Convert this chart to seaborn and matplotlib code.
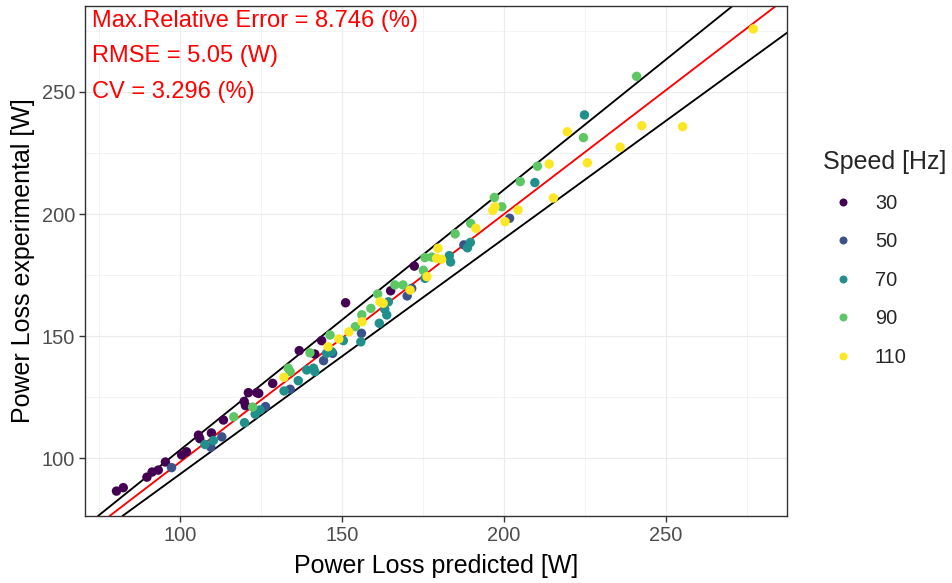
import matplotlib
matplotlib.use("Agg")
import matplotlib.pyplot as plt
import seaborn as sns
import pandas as pd

# ---- data ----
speeds = ["30", "50", "70", "90", "110"]
colors = ["#440154", "#3B528B", "#21908C", "#5DC863", "#FDE725"]

pred_30 = [80.4, 82.5, 89.8, 91.4, 93.3, 95.5, 100.5, 102.0, 105.7, 106.1, 109.7, 113.4,
           119.8, 120.2, 121.1, 123.7, 124.3, 128.6, 136.8, 141.6, 143.7, 151.1, 165.0, 172.3]
exp_30 = [86.6, 88.0, 92.3, 94.4, 95.2, 98.5, 101.4, 102.7, 109.5, 108.1, 110.4, 115.7,
          123.3, 121.6, 126.9, 126.9, 126.6, 130.7, 144.1, 142.7, 148.2, 163.7, 168.6, 178.7]

pred_50 = [97.4, 109.5, 112.9, 126.4, 134.0, 144.3, 147.1, 156.0, 170.1, 171.5, 187.6, 201.7]
exp_50 = [96.2, 104.6, 108.8, 121.2, 128.3, 140.0, 143.0, 151.2, 166.5, 169.6, 187.4, 198.3]

pred_70 = [107.7, 110.3, 119.9, 123.5, 124.7, 123.2, 132.1, 136.5, 139.1, 141.2, 141.6,
           145.2, 146.8, 150.4, 155.8, 161.5, 164.3, 163.2, 163.8, 175.6, 183.1, 183.5,
           189.6, 188.7, 209.5, 224.8]
exp_70 = [105.7, 107.3, 114.6, 119.0, 119.8, 118.1, 127.6, 131.8, 136.2, 136.9, 135.5,
          143.0, 143.7, 148.2, 147.7, 155.3, 164.1, 161.0, 158.7, 173.7, 183.0, 180.4,
          188.4, 186.2, 212.9, 240.6]

pred_90 = [116.6, 122.4, 133.4, 134.0, 140.1, 146.3, 154.1, 156.1, 158.9, 161.0, 166.3,
           168.8, 175.1, 175.6, 177.7, 184.9, 189.7, 197.0, 199.3, 205.0, 210.3, 224.5, 240.9]
exp_90 = [117.0, 121.0, 136.9, 135.5, 143.2, 150.5, 153.9, 158.8, 161.4, 167.3, 171.0,
          171.0, 177.0, 182.2, 182.4, 191.9, 196.2, 206.8, 203.0, 213.3, 219.6, 231.3, 256.4]

pred_110 = [132.1, 145.7, 149.0, 152.1, 156.2, 161.7, 162.7, 171.0, 176.2, 179.2, 180.7,
            179.6, 191.3, 197.2, 196.5, 200.3, 204.3, 213.9, 215.2, 219.5, 225.7, 235.8,
            242.5, 255.1, 276.9]
exp_110 = [133.2, 145.7, 148.9, 151.8, 155.9, 164.1, 163.5, 168.9, 174.4, 181.9, 181.5,
           186.0, 194.2, 203.0, 201.5, 196.9, 201.7, 220.5, 206.6, 233.7, 221.0, 227.4,
           236.2, 235.8, 275.8]

# reference lines: fitted line (red) and +/-5 % band (black)
line_slopes = [1.0156, 1.0664, 0.9648]
line_intercepts = [-3.1, -3.26, -2.95]
line_colors = ["red", "black", "black"]

x_ticks = [100, 150, 200, 250]
y_ticks = [100, 150, 200, 250]
x_label = "Power Loss predicted [W]"
y_label = "Power Loss experimental [W]"
legend_title = "Speed [Hz]"
stats_text = ["Max.Relative Error = 8.746 (%)", "RMSE = 5.05 (W)", "CV = 3.296 (%)"]

# ---- build table ----
preds = [pred_30, pred_50, pred_70, pred_90, pred_110]
exps = [exp_30, exp_50, exp_70, exp_90, exp_110]
rows = []
for sp, pl, el in zip(speeds, preds, exps):
    for p, e in zip(pl, el):
        rows.append({"pred": p, "exp": e, "speed": sp})
df = pd.DataFrame(rows)

sns.set_theme(style="white")
plt.rcParams["font.family"] = ["Liberation Sans", "DejaVu Sans"]

W, H = 952, 583
fig = plt.figure(figsize=(W / 100, H / 100), dpi=100)
left, right, bottom, top = 84.7, 787, 516, 5.5
ax = fig.add_axes([left / W, 1 - bottom / H, (right - left) / W, (bottom - top) / H])

ax.set_xlim(70.6, 287.3)
ax.set_ylim(76.4, 285.4)

# grid
ax.set_xticks(x_ticks)
ax.set_yticks(y_ticks)
ax.set_xticks([75, 125, 175, 225, 275], minor=True)
ax.set_yticks([125, 175, 225, 275], minor=True)
ax.grid(True, which="major", color="#EBEBEB", linewidth=0.8, zorder=0)
ax.grid(True, which="minor", color="#EBEBEB", linewidth=0.4, zorder=0)
ax.set_axisbelow(True)

for sl, ic, c in zip(line_slopes, line_intercepts, line_colors):
    ax.axline((0, ic), slope=sl, color=c, linewidth=1.35, zorder=2)

sns.scatterplot(data=df, x="pred", y="exp", hue="speed", hue_order=speeds,
                palette=colors, s=46, linewidth=0, ax=ax, zorder=3)

for sp in ax.spines.values():
    sp.set_color("#333333")
    sp.set_linewidth(1.0)

ax.tick_params(axis="both", which="major", direction="out", length=4, width=1,
               color="#333333", labelcolor="#4D4D4D", labelsize=14.4, pad=3,
               bottom=True, left=True)
ax.tick_params(axis="both", which="minor", length=0)

ax.set_xlabel(x_label, fontsize=18, color="black", labelpad=7)
ax.set_ylabel(y_label, fontsize=18, color="black", labelpad=5)

# stats annotation
ys = [0.957, 0.8885, 0.818]
for t, yy in zip(stats_text, ys):
    ax.text(0.0104, yy, t, transform=ax.transAxes, color="red", fontsize=17,
            ha="left", va="baseline", zorder=5)

# legend
handles, labels = ax.get_legend_handles_labels()
ax.get_legend().remove()
leg = fig.legend(handles, labels, title=legend_title, loc="upper left",
                 bbox_to_anchor=(815 / W, 1 - 142 / H), frameon=False,
                 fontsize=14.4, title_fontsize=18, labelspacing=0.98,
                 handletextpad=0.6, borderaxespad=0, alignment="left",
                 markerscale=0.85)

fig.savefig("out.png", dpi=100)
